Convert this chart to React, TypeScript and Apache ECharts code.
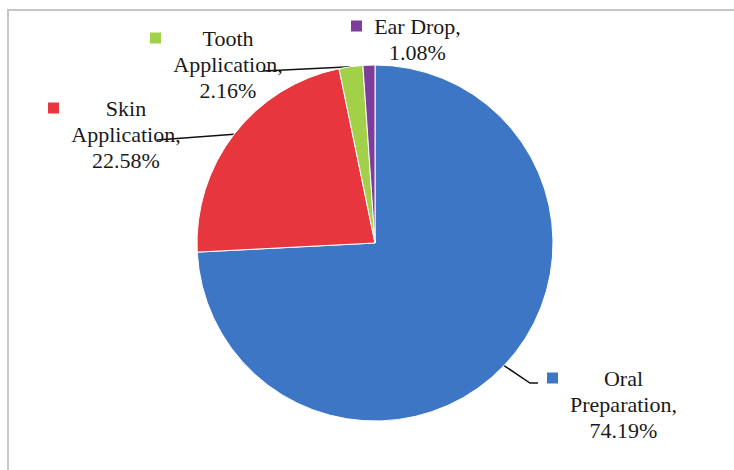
import React, { useEffect, useRef } from "react";
import * as echarts from "echarts";

// ---- data ----
const categories = ["Oral Preparation", "Skin Application", "Tooth Application", "Ear Drop"];
const shares = [74.19, 22.58, 2.16, 1.08];
const nameLines = [["Oral", "Preparation,"], ["Skin", "Application,"], ["Tooth", "Application,"], ["Ear Drop,"]];
const colors = ["#3E76C6", "#E7363D", "#A3D049", "#7E3D9B"];

// ---- layout ----
const FONT = "Liberation Serif";
const FS = 22;
const LH = 26;
const SQ = 11;
const GAP = 11;
const labelPos = [[547, 365], [48, 95], [150, 25], [351, 13]];
const guideOffsets: number[][][] = [[[-17, 18], [-9, 18]], [[109, 45]], [[113, 46]], []];

function measure(text: string): number {
  const c = document.createElement("canvas").getContext("2d");
  if (!c) return text.length * FS * 0.5;
  c.font = `${FS}px "${FONT}"`;
  return c.measureText(text).width;
}

export default function App() {
  const ref = useRef<HTMLDivElement>(null);
  useEffect(() => {
    if (!ref.current) return;
    const chart = echarts.init(ref.current, undefined, { renderer: "svg" });
    const lines = categories.map((_, i) => [...nameLines[i], shares[i].toFixed(2) + "%"]);
    const widths = lines.map((ls) => Math.ceil(Math.max(...ls.map(measure))) + 2);
    const rich: any = {
      gap: { width: GAP, align: "left", lineHeight: LH, fontSize: FS, fontFamily: FONT },
      pad: { width: SQ + GAP, align: "left", lineHeight: LH, fontSize: FS, fontFamily: FONT },
    };
    colors.forEach((col, i) => {
      rich["sq" + i] = { width: SQ, height: SQ, backgroundColor: col, align: "left" };
      rich["t" + i] = {
        width: widths[i], align: "center", lineHeight: LH, fontSize: FS,
        fontFamily: FONT, color: "#1a1a1a",
      };
    });
    const data = categories.map((name, i) => ({
      name,
      value: shares[i],
      itemStyle: { color: colors[i] },
      labelLine: { show: guideOffsets[i].length > 0 },
    }));
    chart.setOption({
      animation: false,
      backgroundColor: "#ffffff",
      graphic: [
        { type: "line", shape: { x1: 7, y1: 10, x2: 734, y2: 10 }, style: { stroke: "#c6c6c6", lineWidth: 2 } },
        { type: "line", shape: { x1: 8, y1: 9, x2: 8, y2: 470 }, style: { stroke: "#c6c6c6", lineWidth: 2 } },
      ],
      series: [
        {
          type: "pie",
          center: [375, 243],
          radius: 178,
          startAngle: 90,
          clockwise: true,
          avoidLabelOverlap: false,
          data,
          itemStyle: { borderColor: "#ffffff", borderWidth: 1 },
          emphasis: { disabled: true },
          label: {
            show: true,
            position: "outside",
            fontFamily: FONT,
            fontSize: FS,
            lineHeight: LH,
            color: "#1a1a1a",
            formatter: (p: any) => {
              const i = p.dataIndex;
              return lines[i]
                .map((t, k) => (k === 0 ? `{sq${i}|}{gap|}` : `{pad|}`) + `{t${i}|${t}}`)
                .join("\n");
            },
            rich,
          },
          labelLine: { show: true, lineStyle: { color: "#111111", width: 1.5 } },
          labelLayout: (params: any) => {
            const i = params.dataIndex;
            const [x, y] = labelPos[i];
            const res: any = { x, y, align: "left", verticalAlign: "top" };
            const pts = params.labelLinePoints;
            if (pts && pts.length && guideOffsets[i].length) {
              res.labelLinePoints = [pts[0], ...guideOffsets[i].map(([dx, dy]) => [x + dx, y + dy])];
            }
            return res;
          },
        },
      ],
    });
    return () => chart.dispose();
  }, []);
  return (
    <div
      ref={ref}
      style={{ position: "absolute", left: 0, top: 0, width: 734, height: 470, background: "#fff" }}
    />
  );
}
